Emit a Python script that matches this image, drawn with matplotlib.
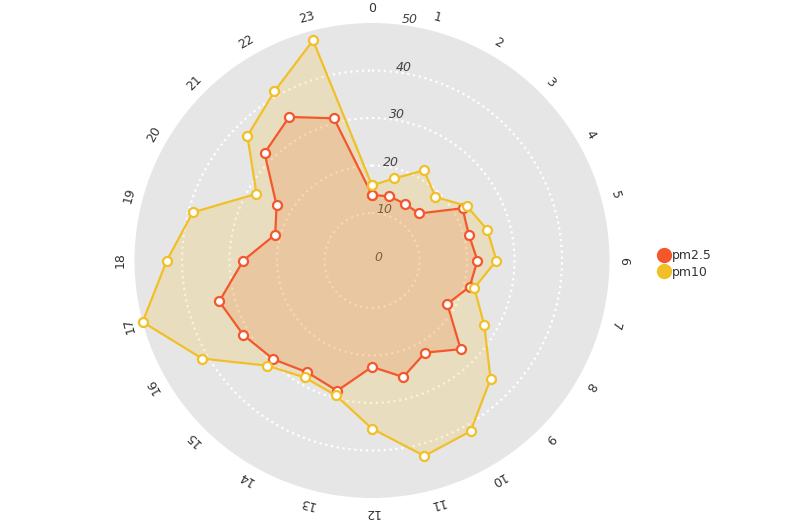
import matplotlib.pyplot as plt
import numpy as np
from matplotlib.lines import Line2D

# heures (0-23) et valeurs
hours = [str(h) for h in range(24)]
pm25 = [13.8, 14.0, 13.8, 14.0, 22.0, 21.1, 22.2, 21.3, 18.3, 26.4, 22.4, 25.4,
        22.4, 28.4, 27.2, 29.4, 31.3, 33.3, 27.1, 21.1, 23.2, 32.0, 34.9, 31.0]
pm10 = [15.8, 17.9, 21.9, 18.9, 23.0, 25.1, 26.2, 22.3, 27.3, 35.3, 41.5, 42.6,
        35.4, 29.4, 28.4, 31.3, 41.3, 50.0, 43.2, 39.1, 28.1, 37.1, 41.1, 48.0]
radial_ticks = [0, 10, 20, 30, 40, 50]
rmax = 50

c25 = '#f4572c'
c10 = '#f1bf27'

fig = plt.figure(figsize=(8.09, 5.24), dpi=100)
ax = fig.add_axes([0.1663, 0.0496, 0.5871, 0.9065], projection='polar')
ax.set_theta_zero_location('N')
ax.set_theta_direction(-1)
ax.set_ylim(0, rmax)
ax.set_facecolor('#e6e6e6')
ax.spines['polar'].set_visible(False)
ax.grid(False)
ax.set_xticks([])
ax.set_yticks([])

angles = np.deg2rad(np.arange(24) * 15.0)
ang_closed = np.append(angles, angles[0])

# cercles pointillés
t = np.linspace(0, 2*np.pi, 400)
for v in radial_ticks[1:-1]:
    ax.plot(t, np.full_like(t, v), ':', color='white', lw=1.6, zorder=1)

# étiquettes de l'axe radial (en italique)
for v in radial_ticks:
    xu = 1.26 + 0.133 * v
    yu = v + 0.65
    ax.text(np.arctan2(xu, yu), np.hypot(xu, yu), str(v), fontsize=9,
            style='italic', color='#444444', ha='center', va='center', zorder=2)

# étiquettes des heures
for a, lab in zip(angles, hours):
    ax.text(a, 53, lab, fontsize=9, color='#333333', rotation=-np.rad2deg(a),
            ha='center', va='center', rotation_mode='anchor')

# séries
for vals, col in [(pm25, c25), (pm10, c10)]:
    v = np.append(vals, vals[0])
    ax.fill(ang_closed, v, color=col, alpha=0.2, lw=0, zorder=3)
for vals, col in [(pm25, c25), (pm10, c10)]:
    v = np.append(vals, vals[0])
    ax.plot(ang_closed, v, '-', color=col, lw=1.6, zorder=4,
            marker='o', markersize=6.5, markerfacecolor='white',
            markeredgecolor=col, markeredgewidth=1.6, clip_on=False)

handles = [Line2D([], [], ls='none', marker='o', markersize=10, color=c25),
           Line2D([], [], ls='none', marker='o', markersize=10, color=c10)]
fig.legend(handles, ['pm2.5', 'pm10'], loc='center left',
           bbox_to_anchor=(648/809, 1 - 264/524), frameon=False,
           fontsize=9, handlelength=0.8, handletextpad=0.2, labelspacing=0.25,
           labelcolor='#333333')

fig.savefig('out.png', dpi=100)
